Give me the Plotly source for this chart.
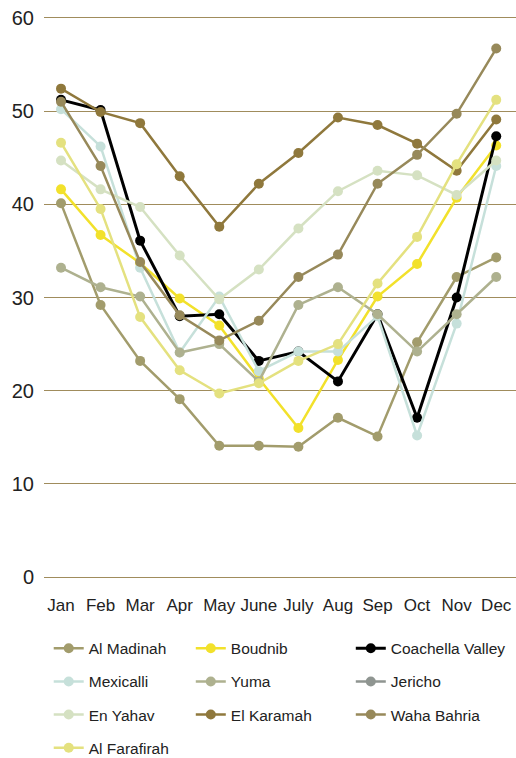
import plotly.graph_objects as go

# monthly values
months = ["Jan", "Feb", "Mar", "Apr", "May", "June", "July", "Aug", "Sep", "Oct", "Nov", "Dec"]

al_madinah   = [40.1, 29.2, 23.2, 19.1, 14.1, 14.1, 14.0, 17.1, 15.1, 25.2, 32.2, 34.3]
boudnib      = [41.6, 36.7, 33.7, 29.9, 27.0, 21.3, 16.0, 23.3, 30.1, 33.6, 40.7, 46.3]
coachella    = [51.2, 50.1, 36.1, 28.0, 28.2, 23.2, 24.2, 21.0, 28.2, 17.1, 30.0, 47.3]
mexicalli    = [50.2, 46.2, 33.2, 24.1, 30.1, 22.1, 24.2, 24.2, 28.0, 15.2, 27.2, 44.1]
yuma         = [33.2, 31.1, 30.1, 24.1, 25.0, 21.0, 29.2, 31.1, 28.2, 24.2, 28.2, 32.2]
jericho      = [None] * 12
en_yahav     = [44.7, 41.6, 39.7, 34.5, 29.8, 33.0, 37.4, 41.4, 43.6, 43.1, 41.0, 44.7]
el_karamah   = [52.4, 49.9, 48.7, 43.0, 37.6, 42.2, 45.5, 49.3, 48.5, 46.5, 43.6, 49.1]
waha_bahria  = [51.0, 44.1, 33.8, 28.1, 25.4, 27.5, 32.2, 34.6, 42.2, 45.3, 49.7, 56.7]
al_farafirah = [46.6, 39.5, 27.9, 22.2, 19.7, 20.8, 23.2, 25.0, 31.5, 36.5, 44.3, 51.2]

series = [
    ("Al Madinah", al_madinah, "#a29c6c", "legend"),
    ("Boudnib", boudnib, "#f2e12b", "legend2"),
    ("Coachella Valley", coachella, "#000000", "legend3"),
    ("Mexicalli", mexicalli, "#c6e0da", "legend"),
    ("Yuma", yuma, "#aeb18f", "legend2"),
    ("Jericho", jericho, "#8f9591", "legend3"),
    ("En Yahav", en_yahav, "#d5e1c2", "legend"),
    ("El Karamah", el_karamah, "#8f783c", "legend2"),
    ("Waha Bahria", waha_bahria, "#97895a", "legend3"),
    ("Al Farafirah", al_farafirah, "#e4e17f", "legend"),
]

FONT = "Liberation Sans, Arial, sans-serif"

fig = go.Figure()
for name, vals, col, leg in series:
    fig.add_trace(go.Scatter(
        x=months, y=vals, name=name, mode="lines+markers",
        line=dict(color=col, width=3 if col == "#000000" else 2.5),
        marker=dict(color=col, size=10),
        legend=leg, legendgroup=name,
    ))

leg_common = dict(
    orientation="v", yanchor="top", xanchor="left", y=-0.0915,
    font=dict(family=FONT, size=15.5, color="#222"),
    tracegroupgap=10, bgcolor="rgba(0,0,0,0)", itemwidth=30,
)

fig.update_layout(
    width=516, height=758,
    margin=dict(l=44, r=0, t=15, b=178, autoexpand=False),
    plot_bgcolor="white", paper_bgcolor="white",
    font=dict(family=FONT, color="#222"),
    xaxis=dict(
        range=[-0.43, 11.5], showgrid=False, zeroline=False, showline=False,
        ticks="", tickfont=dict(size=17, color="#222"), ticklabelstandoff=13,
        automargin=False, ticklabeloverflow="allow",
    ),
    yaxis=dict(
        range=[-0.3, 60.3], tickvals=[0, 10, 20, 30, 40, 50, 60],
        showgrid=True, gridcolor="#a08c5c", gridwidth=1,
        zeroline=False, showline=False, ticks="",
        tickfont=dict(size=20, color="#222"), ticklabelstandoff=9,
        automargin=False, ticklabeloverflow="allow",
    ),
    legend=dict(x=0.01, **leg_common),
    legend2=dict(x=0.311, **leg_common),
    legend3=dict(x=0.65, **leg_common),
)

# drop the page's default body margin so the figure sits at the window corner
fig.write_html("out.html", config={"displayModeBar": False},
               post_script="document.body.style.margin='0px';")
